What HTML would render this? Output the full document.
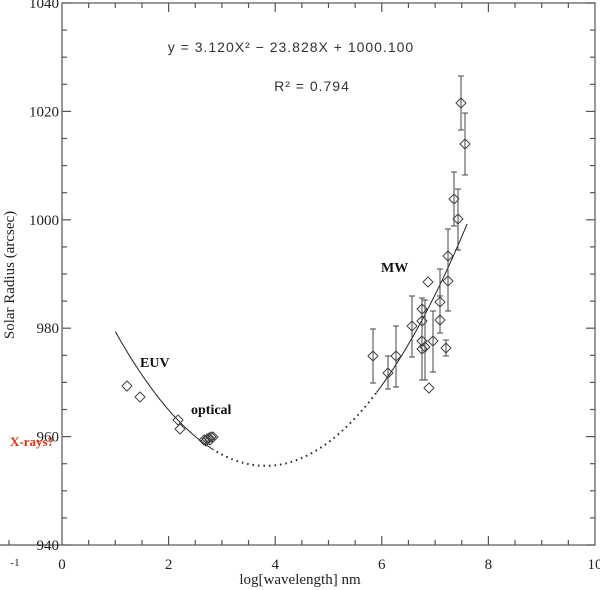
<!DOCTYPE html>
<html><head><style>body{margin:0;background:#fff}svg{display:block}</style></head>
<body>
<svg id="s" width="600" height="590" xmlns="http://www.w3.org/2000/svg" font-family="Liberation Serif, serif">
<rect width="600" height="590" fill="#fff"/>
<g stroke="#555" stroke-width="1.2" fill="none">
<rect x="62" y="3" width="533" height="542"/>
<line x1="0" y1="545" x2="62" y2="545"/>
<line x1="9" y1="545" x2="9" y2="540"/>
</g>
<g id="ticks" stroke="#555" stroke-width="1.2"></g>
<g font-size="15" fill="#222" text-anchor="end" id="ylab"></g>
<g font-size="15" fill="#222" text-anchor="middle" id="xlab"></g>
<text x="15" y="566" font-size="11" text-anchor="middle" fill="#222">-1</text>
<text x="300" y="584" font-size="15" text-anchor="middle" fill="#222">log[wavelength] nm</text>
<text transform="translate(14,275) rotate(-90)" font-size="15" text-anchor="middle" fill="#222">Solar Radius (arcsec)</text>
<text x="291" y="52" font-size="14" letter-spacing="1" font-family="Liberation Sans, sans-serif" text-anchor="middle" fill="#333" xml:space="preserve">y = 3.120X² − 23.828X + 1000.100</text>
<text x="312" y="91" font-size="14" letter-spacing="1" font-family="Liberation Sans, sans-serif" text-anchor="middle" fill="#333">R² = 0.794</text>
<text x="140" y="367" font-size="14" font-weight="bold" fill="#111">EUV</text>
<text x="191" y="414" font-size="14" font-weight="bold" fill="#111">optical</text>
<text x="381" y="272" font-size="14" font-weight="bold" fill="#111">MW</text>
<text x="10" y="446" font-size="13" font-weight="bold" fill="#e03010">X-rays?</text>
<path id="c1" fill="none" stroke="#222" stroke-width="1"/>
<path id="c2" fill="none" stroke="#222" stroke-width="2" stroke-dasharray="1.5,4"/>
<path id="c3" fill="none" stroke="#222" stroke-width="1"/>
<g id="pts" fill="none" stroke="#444" stroke-width="1"></g>
</svg>
<script>
var NS="http://www.w3.org/2000/svg";
function X(v){return 62+v*53.3}function Y(v){return 3+(1040-v)*5.42}
function el(p,t,a,txt){var e=document.createElementNS(NS,t);for(var k in a)e.setAttribute(k,a[k]);if(txt)e.textContent=txt;document.getElementById(p).appendChild(e)}
for(var i=1;i<20;i++){var x=62+i*26.65,L=i%4==0?9:5;el("ticks","line",{x1:x,y1:545,x2:x,y2:545-L});el("ticks","line",{x1:x,y1:3,x2:x,y2:3+L});}
for(var v=940;v<=1040;v+=5){var y=Y(v),L=v%20==0?9:5;el("ticks","line",{x1:62,y1:y,x2:62+L,y2:y});el("ticks","line",{x1:595,y1:y,x2:595-L,y2:y});}
for(var v=940;v<=1040;v+=20)el("ylab","text",{x:59,y:Y(v)+5},""+v);
for(var v=0;v<=10;v+=2)el("xlab","text",{x:X(v),y:569},""+v);
function f(x){return 3.12*x*x-23.828*x+1000.1}
function P(a,b){var d="";for(var x=a;x<=b+1e-9;x+=0.05)d+=(d?"L":"M")+X(x).toFixed(1)+","+Y(f(x)).toFixed(1);return d}
document.getElementById("c1").setAttribute("d",P(1,2.85));
document.getElementById("c2").setAttribute("d",P(2.9,5.9));
document.getElementById("c3").setAttribute("d",P(5.9,7.6));
function D(x,y){el("pts","path",{d:"M"+(x-5)+","+y+"L"+x+","+(y-5)+"L"+(x+5)+","+y+"L"+x+","+(y+5)+"Z"})}
function E(x,a,b){el("pts","path",{d:"M"+x+","+a+"V"+b+"M"+(x-3)+","+a+"H"+(x+3)+"M"+(x-3)+","+b+"H"+(x+3)})}
var p=[[127,386],[140,397],[178,420],[180,429],[204,440],[207,439],[209,438],[211,437],[213,437],[206,441],[210,440]];
p.forEach(function(q){D(q[0],q[1])});
var m=[[373,356,329,383],[388,373,356,389],[396,356,326,387],[412,326,296,357],[422,309,298,380],[422,321,298,380],[422,341,0,0],[422,349,0,0],[425,347,300,380],[428,282,0,0],[429,388,0,0],[433,341,311,372],[440,302,269,333],[440,320,296,333],[446,348,340,356],[448,256,229,311],[448,281,0,0],[454,199,172,226],[458,219,189,250],[461,103,76,130],[465,144,113,175]];
m.forEach(function(q){if(q[2])E(q[0],q[2],q[3]);D(q[0],q[1])});
</script>
</body></html>
